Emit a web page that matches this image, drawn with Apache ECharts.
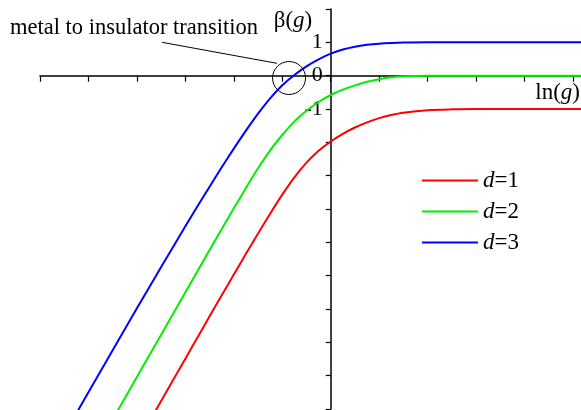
<!DOCTYPE html>
<html>
<head>
<meta charset="utf-8">
<script src="https://cdn.jsdelivr.net/npm/echarts@6/dist/echarts.min.js"></script>
<style>
html,body{margin:0;padding:0;background:#fff;}
#c{width:581px;height:410px;}
</style>
</head>
<body>
<div id="c"></div>
<script>
// ln(g) sample positions
var lnG = [-6, -5.5, -5, -4.5, -4, -3.5, -3, -2.75, -2.5, -2.25, -2, -1.75, -1.5, -1.25, -1, -0.75, -0.5, -0.25, 0, 0.25, 0.5, 0.75, 1, 1.25, 1.5, 2, 2.5, 3, 4, 5.2];
// beta(g) for each dimension
var beta_d1 = [-16.11, -14.84, -13.57, -12.3, -11.03, -9.76, -8.49, -7.855, -7.22, -6.59, -5.965, -5.345, -4.735, -4.14, -3.57, -3.05, -2.61, -2.255, -1.975, -1.745, -1.555, -1.40, -1.275, -1.18, -1.11, -1.035, -1.01, -1.002, -1, -1];
var beta_d2 = [-14.12, -12.85, -11.58, -10.31, -9.04, -7.77, -6.5, -5.865, -5.23, -4.6, -3.98, -3.37, -2.78, -2.24, -1.78, -1.37, -1.05, -0.79, -0.58, -0.42, -0.29, -0.185, -0.105, -0.05, -0.018, -0.002, 0, 0, 0, 0];
var beta_d3 = [-12.02, -10.76, -9.5, -8.24, -6.98, -5.74, -4.52, -3.92, -3.33, -2.75, -2.19, -1.65, -1.14, -0.68, -0.29, 0.02, 0.28, 0.49, 0.66, 0.785, 0.87, 0.925, 0.96, 0.98, 0.992, 1.0, 1, 1, 1, 1];
var seriesNames = ['d=1', 'd=2', 'd=3'];
var seriesColors = ['#ff0000', '#00ee00', '#0000ff'];
var xTickValues = [-6, -5, -4, -3, -2, -1, 0, 1, 2, 3, 4, 5];
var yLabelValues = [1, 0, -1];

var FONT = '"Liberation Serif", "Times New Roman", serif';
function pairs(v){ return lnG.map(function(x,i){ return [x, v[i]]; }); }
var allVals = [beta_d1, beta_d2, beta_d3];

var chart = echarts.init(document.getElementById('c'), null, {renderer:'canvas'});
var option = {
  animation: false,
  backgroundColor: '#fff',
  grid: {left: 40, right: 0, top: 9, bottom: 1, containLabel: false},
  xAxis: {
    type: 'value', min: -6, max: 5.165,
    axisLine: {onZero: true, lineStyle: {color: '#000', width: 1.5}},
    axisTick: {show: true, customValues: xTickValues, length: 6, lineStyle: {color: '#000', width: 1.2}},
    axisLabel: {show: false},
    splitLine: {show: false}
  },
  yAxis: {
    type: 'value', min: -10, max: 2, interval: 1, position: 'left', offset: 0,
    axisLine: {onZero: false, lineStyle: {color: '#000', width: 1.5}},
    axisTick: {show: true, length: 5, lineStyle: {color: '#000', width: 1.2}},
    axisLabel: {
      show: true, margin: 8, color: '#000', fontFamily: FONT, fontSize: 22,
      formatter: function(v){ return yLabelValues.indexOf(v) >= 0 ? String(v) : ''; }
    },
    splitLine: {show: false}
  },
  legend: {
    orient: 'vertical', left: 422, top: 169, padding: 0,
    icon: 'rect', itemWidth: 56, itemHeight: 2.2, itemGap: 8,
    data: seriesNames,
    textStyle: {
      fontFamily: FONT, fontSize: 23, color: '#000', lineHeight: 20, padding: [0,0,0,0],
      rich: {i: {fontFamily: FONT, fontSize: 23, fontStyle: 'italic', color: '#000', lineHeight: 20},
             n: {fontFamily: FONT, fontSize: 23, color: '#000', lineHeight: 20}}
    },
    formatter: function(name){ var p = name.split('='); return '{i|' + p[0] + '}{n|=' + p[1] + '}'; }
  },
  series: seriesNames.map(function(n, k){
    return {
      name: n, type: 'line', data: pairs(allVals[k]), smooth: 0.3, symbol: 'none',
      lineStyle: {color: seriesColors[k], width: 2}, itemStyle: {color: seriesColors[k]},
      clip: true, z: 3
    };
  })
};
chart.setOption(option);

// move y axis to x = 0 (labels follow the line)
function px(x, y){ return chart.convertToPixel({gridIndex: 0}, [x, y]); }
var zeroX = px(0, 0)[0];
chart.setOption({yAxis: {offset: -(zeroX - 40)}});

// annotations placed in data coordinates
var circC = px(-0.86, -0.07);
var lineA = px(-3.48, 1.0);
var lineB = px(-1.11, 0.37);
var xEnd = px(5.165, 0);
var yTop = px(0, 2);
chart.setOption({
  graphic: [
    {type: 'circle', shape: {cx: circC[0], cy: circC[1], r: 16.5}, style: {fill: 'none', stroke: '#000', lineWidth: 1}, z: 10},
    {type: 'line', shape: {x1: lineA[0], y1: lineA[1], x2: lineB[0], y2: lineB[1]}, style: {stroke: '#000', lineWidth: 1}, z: 10},
    {type: 'text', left: 10, top: 17, style: {text: 'metal to insulator transition', font: '22.5px ' + FONT, fill: '#000'}, z: 10},
    {type: 'text', x: yTop[0] - 57, y: yTop[1] + 12, style: {
      text: '{n|β(}{i|g}{n|)}', verticalAlign: 'middle',
      rich: {n: {fontFamily: FONT, fontSize: 23, fill: '#000'}, i: {fontFamily: FONT, fontSize: 23, fontStyle: 'italic', fill: '#000'}}
    }, z: 10},
    {type: 'text', x: xEnd[0] - 1, y: xEnd[1] + 17, style: {
      text: '{n|ln(}{i|g}{n|)}', align: 'right', verticalAlign: 'middle',
      rich: {n: {fontFamily: FONT, fontSize: 23, fill: '#000'}, i: {fontFamily: FONT, fontSize: 23, fontStyle: 'italic', fill: '#000'}}
    }, z: 10}
  ]
});
</script>
</body>
</html>
